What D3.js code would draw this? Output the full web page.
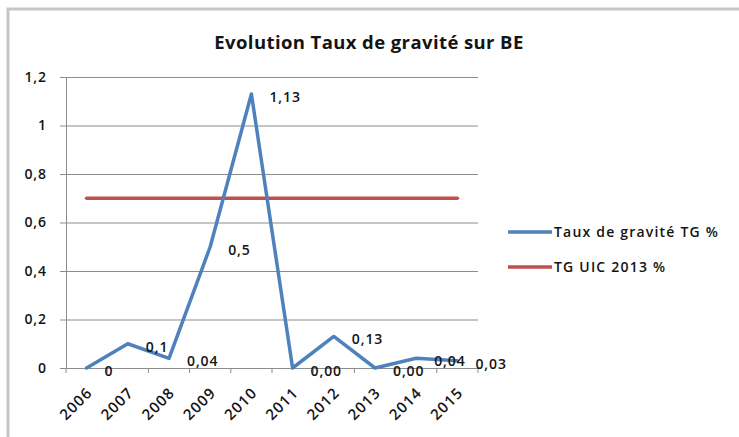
<!DOCTYPE html>
<html>
<head>
<meta charset="utf-8">
<script src="https://cdn.jsdelivr.net/npm/d3@7"></script>
<style>
	body { margin: 0; background: #fff; }
	svg text { font-family: "Open Sans", "DejaVu Sans", sans-serif; fill: #141414; }
</style>
</head>
<body>
<div id="chart"></div>
<script>
// data
const years = ["2006", "2007", "2008", "2009", "2010", "2011", "2012", "2013", "2014", "2015"];
const taux = [0, 0.1, 0.04, 0.5, 1.13, 0, 0.13, 0, 0.04, 0.03];
const taux_labels = ["0", "0,1", "0,04", "0,5", "1,13", "0,00", "0,13", "0,00", "0,04", "0,03"];
const uic = [0.7, 0.7, 0.7, 0.7, 0.7, 0.7, 0.7, 0.7, 0.7, 0.7];
const y_ticks = [0, 0.2, 0.4, 0.6, 0.8, 1, 1.2];
const series_names = ["Taux de gravité TG %", "TG UIC 2013 %"];
const colors = ["#4f81bd", "#c0504d"];

const width = 739;
const height = 437;
const margin = { top: 77, right: 261, bottom: 69, left: 66 };
const font_size = 14;
const spacing = "0.9px";

const svg = d3
	.select("#chart")
	.append("svg")
	.attr("width", width)
	.attr("height", height);

// chart frame (cut off at right and bottom like the screenshot)
svg.append("rect")
	.attr("x", 8)
	.attr("y", 9)
	.attr("width", 760)
	.attr("height", 460)
	.attr("fill", "none")
	.attr("stroke", "#c6c6c6")
	.attr("stroke-width", 3);

svg.append("text")
	.attr("x", 369)
	.attr("y", 49)
	.attr("text-anchor", "middle")
	.attr("font-size", 18.5)
	.attr("font-weight", "bold")
	.attr("letter-spacing", "0.4px")
	.text("Evolution Taux de gravité sur BE");

const x = d3
	.scaleBand()
	.domain(years)
	.range([margin.left, width - margin.right]);

const y = d3
	.scaleLinear()
	.domain([0, 1.2])
	.range([height - margin.bottom, margin.top]);

// grid + y axis
const yAxis = svg
	.append("g")
	.attr("transform", `translate(${margin.left},0)`)
	.call(
		d3.axisLeft(y)
			.tickValues(y_ticks)
			.tickSize(-(width - margin.right - margin.left))
			.tickSizeOuter(0)
			.tickPadding(19)
			.tickFormat((d) => d3.format("~g")(d).replace(".", ","))
	);
yAxis.select(".domain").attr("stroke", "#8c8c8c");
yAxis.selectAll(".tick line").attr("stroke", "#8c8c8c").attr("x1", -6);
yAxis.selectAll(".tick text")
	.attr("font-size", font_size)
	.attr("font-weight", 600)
	.attr("letter-spacing", spacing)
	.attr("fill", "#141414");

// x axis with ticks on the band edges
const xAxis = svg
	.append("g")
	.attr("transform", `translate(0,${height - margin.bottom})`)
	.call(d3.axisBottom(x).tickSize(0).tickSizeOuter(0));
xAxis.select(".domain").attr("stroke", "#8c8c8c");
xAxis.selectAll(".tick text")
	.attr("font-size", 15)
	.attr("font-weight", 600)
	.attr("letter-spacing", "1.1px")
	.attr("fill", "#141414")
	.attr("text-anchor", "end")
	.attr("transform", "translate(3,22) rotate(-45)")
	.attr("dy", "0.35em")
	.attr("y", 0);
svg.append("g")
	.selectAll("line")
	.data(years.concat(["end"]))
	.join("line")
	.attr("x1", (d, i) => (i < years.length ? x(d) : x(years[years.length - 1]) + x.bandwidth()))
	.attr("x2", (d, i) => (i < years.length ? x(d) : x(years[years.length - 1]) + x.bandwidth()))
	.attr("y1", y(0))
	.attr("y2", y(0) + 5)
	.attr("stroke", "#8c8c8c");

const cx = (d) => x(d) + x.bandwidth() / 2;

// series lines
const line = d3
	.line()
	.x((d) => cx(d[0]))
	.y((d) => y(d[1]));

svg.append("path")
	.datum(d3.zip(years, uic))
	.attr("d", line)
	.attr("fill", "none")
	.attr("stroke", colors[1])
	.attr("stroke-width", 3.5)
	.attr("stroke-linecap", "round");

svg.append("path")
	.datum(d3.zip(years, taux))
	.attr("d", line)
	.attr("fill", "none")
	.attr("stroke", colors[0])
	.attr("stroke-width", 3.5)
	.attr("stroke-linejoin", "round")
	.attr("stroke-linecap", "round");

// data labels
svg.append("g")
	.selectAll("text")
	.data(d3.zip(years, taux, taux_labels))
	.join("text")
	.attr("x", (d) => cx(d[0]) + 18)
	.attr("y", (d) => y(d[1]) + 8)
	.attr("font-size", font_size)
	.attr("font-weight", 600)
	.attr("letter-spacing", spacing)
	.text((d) => d[2]);

// legend
const legend = svg
	.append("g")
	.selectAll("g")
	.data(series_names)
	.join("g")
	.attr("transform", (d, i) => `translate(508,${232 + i * 35})`);
legend.append("line")
	.attr("x1", 0)
	.attr("x2", 44)
	.attr("stroke", (d, i) => colors[i])
	.attr("stroke-width", 3.5);
legend.append("text")
	.attr("x", 46)
	.attr("y", 5)
	.attr("font-size", font_size)
	.attr("font-weight", 600)
	.attr("letter-spacing", "1.2px")
	.text((d) => d);
</script>
</body>
</html>
